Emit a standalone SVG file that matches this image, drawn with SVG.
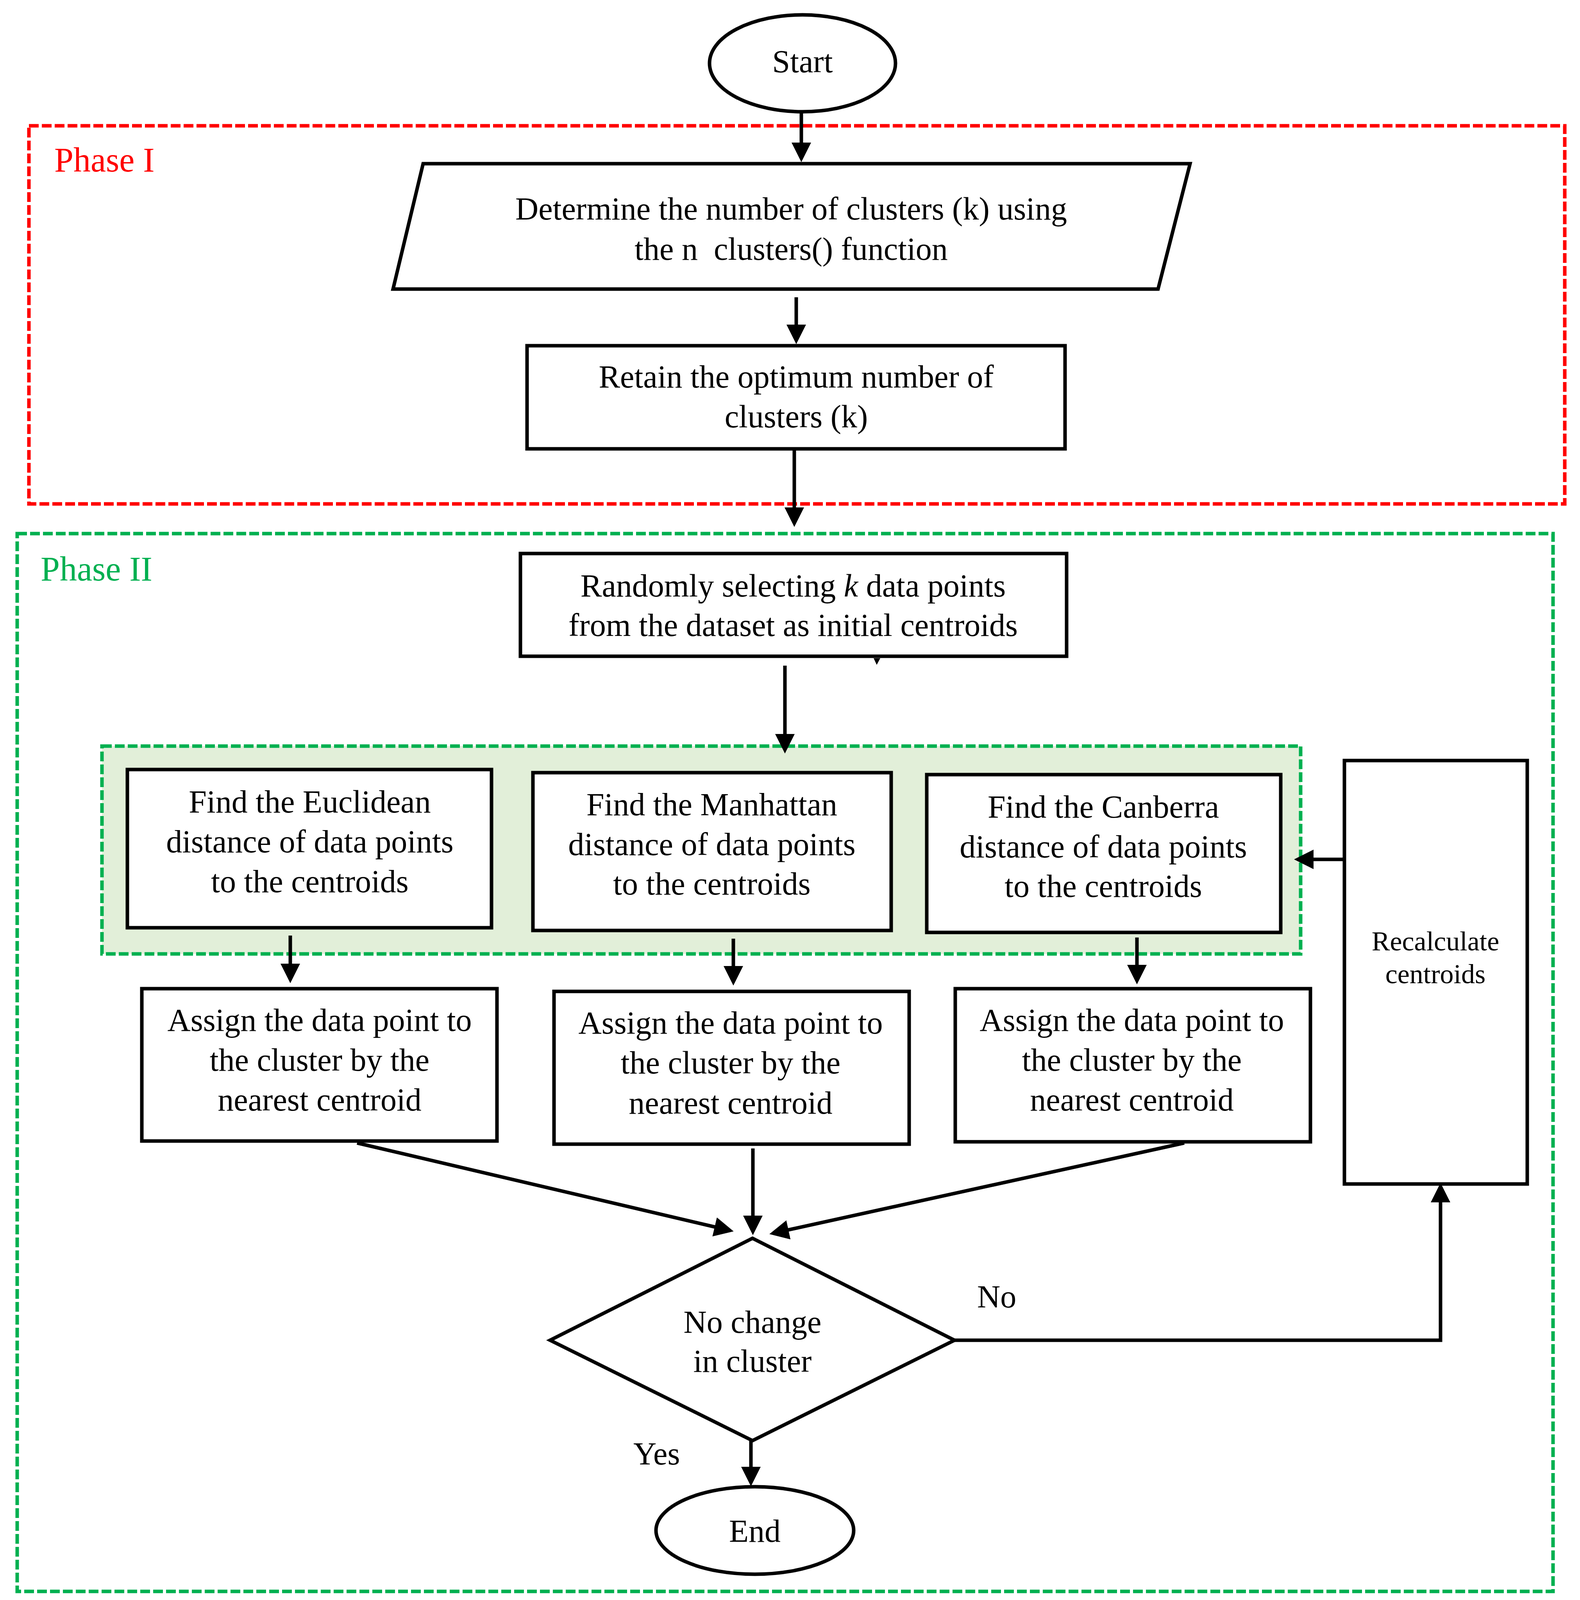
<svg xmlns="http://www.w3.org/2000/svg" width="4044" height="4107" viewBox="0 0 4044 4107">
<style>
.t{font-family:"Liberation Serif","Times New Roman",serif;font-size:82px;fill:#000;text-anchor:middle}
.s{font-family:"Liberation Serif","Times New Roman",serif;font-size:70px;fill:#000;text-anchor:middle}
.lbl{font-family:"Liberation Serif","Times New Roman",serif;font-size:82px;fill:#000}
.ph{font-family:"Liberation Serif","Times New Roman",serif;font-size:88px}
.box{fill:#fff;stroke:#000;stroke-width:9}
.c{fill:none;stroke:#000;stroke-width:9}
</style>
<defs>
<marker id="ah" markerUnits="userSpaceOnUse" markerWidth="52" markerHeight="52" refX="40" refY="25" orient="auto" viewBox="0 0 52 52">
<path d="M0,0 L50,25 L0,50 z" fill="#000"/>
</marker>
</defs>
<rect width="4044" height="4107" fill="#fff"/>
<g id="phase1">
<rect x="74" y="322" width="3931" height="968" fill="none" stroke="#FF0000" stroke-width="9" stroke-dasharray="25 8"/>
<text class="ph" x="139" y="439" fill="#FF0000">Phase I</text>
</g>
<g id="phase2">
<rect x="44" y="1366" width="3931" height="2708" fill="none" stroke="#00B050" stroke-width="9" stroke-dasharray="25 8"/>
<text class="ph" x="104" y="1486" fill="#00B050">Phase II</text>
</g>
<g id="distance-group">
<rect x="261" y="1910" width="3068" height="532" fill="#E2EFD9" stroke="#00B050" stroke-width="9" stroke-dasharray="25 8"/>
</g>
<g id="connectors">
<line class="c" x1="2051" y1="288" x2="2051" y2="405" marker-end="url(#ah)"/>
<line class="c" x1="2038" y1="761" x2="2038" y2="871" marker-end="url(#ah)"/>
<line class="c" x1="2033" y1="1123" x2="2033" y2="1339" marker-end="url(#ah)"/>
<polygon points="2236,1685 2253,1685 2244,1702" fill="#000"/>
<line class="c" x1="2009" y1="1704" x2="2009" y2="1919" marker-end="url(#ah)"/>
<line class="c" x1="743" y1="2395" x2="743" y2="2507" marker-end="url(#ah)"/>
<line class="c" x1="1877" y1="2403" x2="1877" y2="2513" marker-end="url(#ah)"/>
<line class="c" x1="2910" y1="2400" x2="2910" y2="2510" marker-end="url(#ah)"/>
<line class="c" x1="3441" y1="2200" x2="3322" y2="2200" marker-end="url(#ah)"/>
<line class="c" x1="914" y1="2926" x2="1868" y2="3150" marker-end="url(#ah)"/>
<line class="c" x1="1927" y1="2940" x2="1927" y2="3152" marker-end="url(#ah)"/>
<line class="c" x1="3031" y1="2926" x2="1979" y2="3157" marker-end="url(#ah)"/>
<polyline class="c" points="2443,3431 3687,3431 3687,3038" marker-end="url(#ah)"/>
<line class="c" x1="1922" y1="3688" x2="1922" y2="3795" marker-end="url(#ah)"/>
<text class="lbl" x="2501" y="3347">No</text>
<text class="lbl" x="1621" y="3749">Yes</text>
</g>
<g id="start">
<ellipse cx="2054" cy="162" rx="238" ry="124" class="box"/>
<text class="t" x="2054" y="185">Start</text>
</g>
<g id="determine">
<polygon points="1083,419 3046,419 2964,740 1006,740" class="box"/>
<text class="t" x="2025" y="562">Determine the number of clusters (k) using</text>
<text class="t" x="2025" y="665" xml:space="preserve">the n  clusters() function</text>
</g>
<g id="retain">
<rect x="1349" y="885" width="1377" height="264" class="box"/>
<text class="t" x="2038" y="992">Retain the optimum number of</text>
<text class="t" x="2038" y="1094">clusters (k)</text>
</g>
<g id="random">
<rect x="1332" y="1417" width="1398" height="263" class="box"/>
<text class="t" x="2030" y="1527">Randomly selecting <tspan font-style="italic">k</tspan> data points</text>
<text class="t" x="2030" y="1628">from the dataset as initial centroids</text>
</g>
<g id="euclidean">
<rect x="326" y="1970" width="932" height="405" class="box"/>
<text class="t" x="793" y="2080">Find the Euclidean</text>
<text class="t" x="793" y="2182">distance of data points</text>
<text class="t" x="793" y="2284">to the centroids</text>
</g>
<g id="manhattan">
<rect x="1364" y="1978" width="917" height="404" class="box"/>
<text class="t" x="1822" y="2087">Find the Manhattan</text>
<text class="t" x="1822" y="2189">distance of data points</text>
<text class="t" x="1822" y="2290">to the centroids</text>
</g>
<g id="canberra">
<rect x="2372" y="1983" width="906" height="404" class="box"/>
<text class="t" x="2824" y="2093">Find the Canberra</text>
<text class="t" x="2824" y="2195">distance of data points</text>
<text class="t" x="2824" y="2296">to the centroids</text>
</g>
<g id="recalc">
<rect x="3441" y="1947" width="468" height="1084" class="box"/>
<text class="s" x="3674" y="2433">Recalculate</text>
<text class="s" x="3674" y="2517">centroids</text>
</g>
<g id="assign1">
<rect x="363" y="2531" width="909" height="390" class="box"/>
<text class="t" x="818" y="2639">Assign the data point to</text>
<text class="t" x="818" y="2741">the cluster by the</text>
<text class="t" x="818" y="2843">nearest centroid</text>
</g>
<g id="assign2">
<rect x="1418" y="2538" width="909" height="391" class="box"/>
<text class="t" x="1870" y="2646">Assign the data point to</text>
<text class="t" x="1870" y="2748">the cluster by the</text>
<text class="t" x="1870" y="2851">nearest centroid</text>
</g>
<g id="assign3">
<rect x="2445" y="2531" width="909" height="392" class="box"/>
<text class="t" x="2897" y="2639">Assign the data point to</text>
<text class="t" x="2897" y="2741">the cluster by the</text>
<text class="t" x="2897" y="2843">nearest centroid</text>
</g>
<g id="decision">
<polygon points="1926,3170 2443,3431 1926,3688 1408,3431" class="box"/>
<text class="t" x="1926" y="3412">No change</text>
<text class="t" x="1926" y="3512">in cluster</text>
</g>
<g id="end">
<ellipse cx="1932" cy="3918" rx="253" ry="112" class="box"/>
<text class="t" x="1932" y="3947">End</text>
</g>
</svg>
